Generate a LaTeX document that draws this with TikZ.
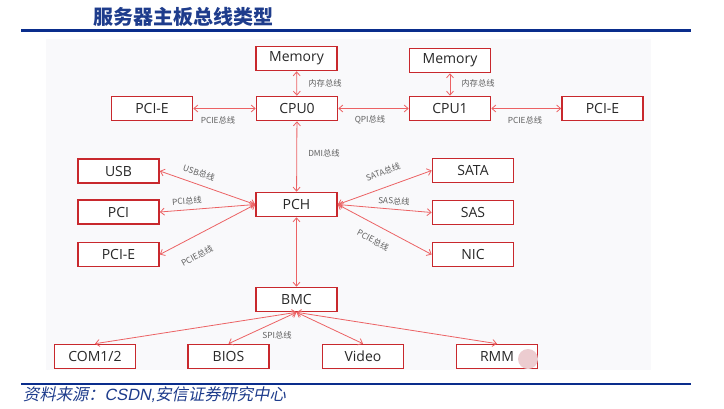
\documentclass[tikz,border=0pt]{standalone}
\usepackage{fontspec}
\setmainfont{Open Sans}
\newfontfamily\cjk{Noto Sans CJK SC}
\newfontfamily\cjkit[FakeSlant=0.2]{Noto Sans CJK SC}
\newfontfamily\latit[FakeSlant=0.2]{Liberation Sans}
\usetikzlibrary{arrows.meta}
\definecolor{boxred}{RGB}{200,40,45}
\definecolor{linered}{RGB}{236,98,100}
\definecolor{txt}{RGB}{40,40,40}
\definecolor{lbltxt}{RGB}{95,95,95}
\definecolor{navy}{RGB}{10,45,140}
\definecolor{titleblue}{RGB}{30,60,140}
\definecolor{panel}{RGB}{249,249,251}
\definecolor{blot}{RGB}{236,204,208}
\begin{document}
\begin{tikzpicture}[x=1pt,y=-1pt,
  box/.style={draw=boxred,line width=1.6pt,fill=white,minimum width=81pt,minimum height=24pt,inner sep=0pt,font=\fontsize{14}{16}\selectfont,text=txt},
  conn/.style={draw=linered,line width=0.8pt,{Straight Barb[length=4pt,width=7pt]}-{Straight Barb[length=4pt,width=7pt]}},
  lbl/.style={font=\cjk\fontsize{8.3}{10}\selectfont,text=lbltxt,inner sep=0pt},
  rule/.style={draw=navy,line width=2.6pt}]
\useasboundingbox (0,0) rectangle (724,408);
% title and frame
\node[font=\cjk\bfseries\fontsize{20}{22}\selectfont,text=titleblue,anchor=west] (title) at (90,17) {服务器主板总线类型};
\coordinate (tl) at (21,30.7);
\coordinate (tr) at (691,30.7);
\draw[rule] (tl) -- (tr);
\fill[panel] (46,39) rectangle (651,370);
\coordinate (bl) at (21,384);
\coordinate (br) at (691,384);
\draw[rule] (bl) -- (br);
\node[anchor=west,text=titleblue,inner sep=0pt] (foot) at (23,395)
  {\cjkit\fontsize{16.3}{18}\selectfont 资料来源：{\latit CSDN,}安信证券研究中心};
% boxes
\node[box] (mem0) at (296.5,58.5) {Memory};
\node[box] (mem1) at (450,60.5) {Memory};
\node[box] (cpu0) at (297,108.5) {CPU0};
\node[box] (cpu1) at (450,108.5) {CPU1};
\node[box] (pcieL) at (152,108.5) {PCI-E};
\node[box] (pcieR) at (602.5,108.5) {PCI-E};
\node[box] (usb) at (118.5,171) {USB};
\node[box] (pci) at (118.5,212) {PCI};
\node[box] (pcieM) at (118.5,254.5) {PCI-E};
\node[box] (pch) at (296.5,204.5) {PCH};
\node[box] (sata) at (473,170.5) {SATA};
\node[box] (sas) at (473,212.5) {SAS};
\node[box] (nic) at (473,254.5) {NIC};
\node[box] (bmc) at (296.5,299.5) {BMC};
\node[box] (com) at (95,356.5) {COM1/2};
\node[box] (bios) at (228.5,356.5) {BIOS};
\node[box] (video) at (363,356.5) {Video};
\node[box] (rmm) at (497,356.5) {RMM};
% connectors
\draw[conn] (mem0) -- (cpu0);
\draw[conn] (mem1) -- (cpu1);
\draw[conn] (pcieL) -- (cpu0);
\draw[conn] (cpu0) -- (cpu1);
\draw[conn] (cpu1) -- (pcieR);
\draw[conn] (cpu0) -- (pch);
\draw[conn] (pch) -- (bmc);
\draw[conn] (pch.west) -- (usb.east);
\draw[conn] (pch.west) -- (pci.east);
\draw[conn] (pch.west) -- (pcieM.east);
\draw[conn] (pch.east) -- (sata.west);
\draw[conn] (pch.east) -- (sas.west);
\draw[conn] (pch.east) -- (nic.west);
\draw[conn] (bmc.south) -- (com.north);
\draw[conn] (bmc.south) -- (bios.north);
\draw[conn] (bmc.south) -- (video.north);
\draw[conn] (bmc.south) -- (rmm.north);
% labels
\node[lbl] (l1) at (325,83) {内存总线};
\node[lbl] (l2) at (218,120) {PCIE总线};
\node[lbl] (l3) at (370,120) {QPI总线};
\node[lbl] (l4) at (478,83) {内存总线};
\node[lbl] (l5) at (525,120) {PCIE总线};
\node[lbl] (l6) at (324,153) {DMI总线};
\node[lbl,rotate=-19] (l7) at (199,173) {USB总线};
\node[lbl,rotate=4] (l8) at (187,201) {PCI总线};
\node[lbl,rotate=28] (l9) at (197,256) {PCIE总线};
\node[lbl,rotate=20] (l10) at (383,172) {SATA总线};
\node[lbl,rotate=-4] (l11) at (394,201) {SAS总线};
\node[lbl,rotate=-28] (l12) at (373,240) {PCIE总线};
\node[lbl] (l13) at (277,335) {SPI总线};
% blot
\fill[blot] (528,359) circle (10);
\end{tikzpicture}
\end{document}
